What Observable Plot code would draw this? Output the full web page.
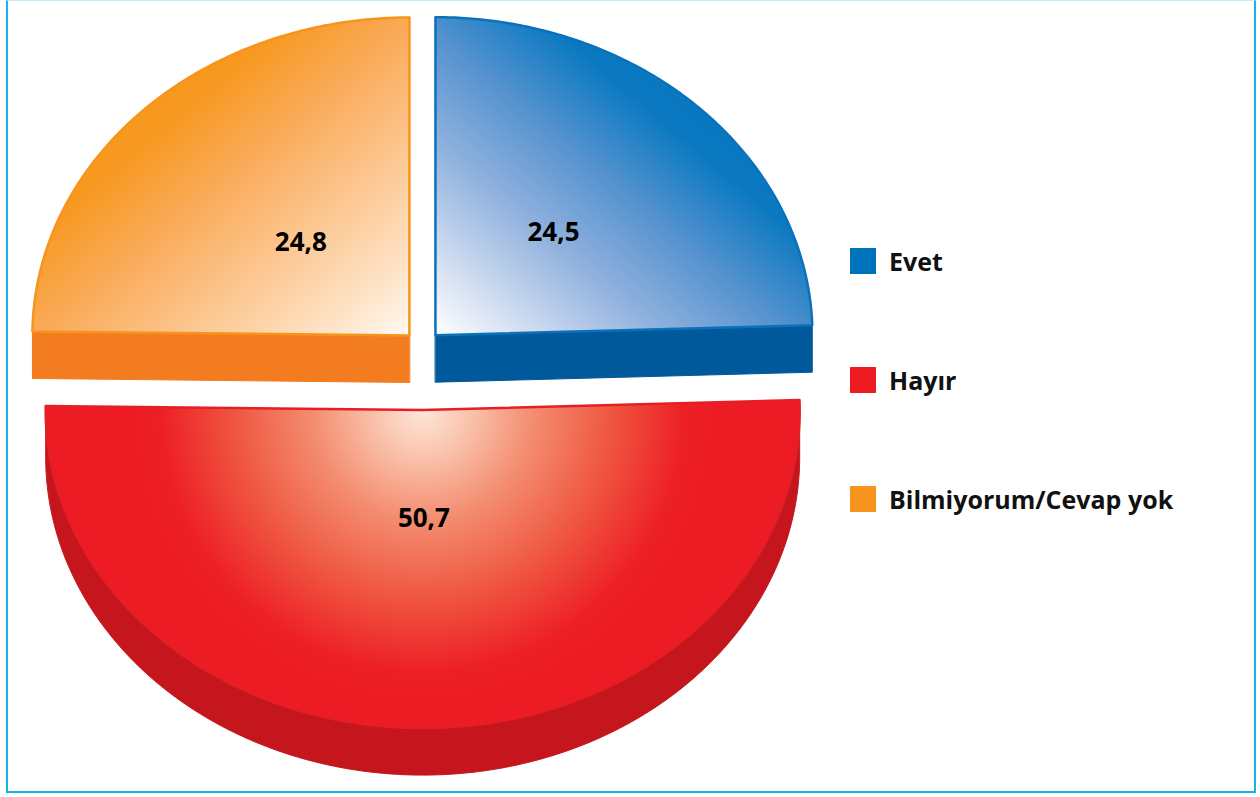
<!DOCTYPE html>
<html>
<head>
<meta charset="utf-8">
<script src="https://cdn.jsdelivr.net/npm/d3@7"></script>
<script src="https://cdn.jsdelivr.net/npm/@observablehq/plot@0.6"></script>
<style>
  html, body { margin: 0; padding: 0; background: #fff; }
  #wrap { position: relative; width: 1260px; height: 797px; overflow: hidden; }
  #frame { position: absolute; left: 6px; top: 0; width: 1250px; height: 793px; box-sizing: border-box;
           border: 2.5px solid #15b4ea; border-top: 1.5px solid #c4eefc; pointer-events: none; }
  #legend { position: absolute; left: 850px; top: 0; }
  .item { position: absolute; left: 0; height: 26px; display: flex; align-items: center; white-space: nowrap; }
  .sw { width: 26px; height: 26px; margin-right: 13px; flex: none; }
  .lab { font-family: "Open Sans", sans-serif; font-weight: 700; font-size: 25px; color: #111; line-height: 26px; }
</style>
</head>
<body>
<div id="wrap"><div id="chart"></div><div id="legend"></div><div id="frame"></div></div>
<script>
// ---- data ----
const categories = ["Evet", "Hayır", "Bilmiyorum/Cevap yok"];
const values = [24.5, 50.7, 24.8];
const valueLabels = ["24,5", "50,7", "24,8"];

// ---- styles ----
const legendColors = {"Evet": "#0072bc", "Hayır": "#ed1c24", "Bilmiyorum/Cevap yok": "#f7941d"};
const sideColors = {"Evet": "#00599a", "Hayır": "#c4161c", "Bilmiyorum/Cevap yok": "#f37c20"};
const edgeColors = {"Evet": "#0a72bb", "Hayır": "#e61e26", "Bilmiyorum/Cevap yok": "#f7941d"};
const gradIds = {"Evet": "gBlue", "Hayır": "gRed", "Bilmiyorum/Cevap yok": "gOrange"};
const labelFrac = {"Evet": 0.45, "Hayır": 0.34, "Bilmiyorum/Cevap yok": 0.41};
const legendTops = {"Evet": 248, "Hayır": 367, "Bilmiyorum/Cevap yok": 486};

// ---- geometry (3D tilted, exploded pie) ----
const W = 1260, H = 797;
const CX = 422, CY = 366, RX = 377, RY = 318, DEPTH = 47, EXX = 18.6, EXY = 43.6;

const arcs = d3.pie().sort(null).startAngle(0).endAngle(2 * Math.PI)(values);
const slices = arcs.map((p, i) => {
  const mid = (p.startAngle + p.endAngle) / 2;
  return {
    cat: categories[i], value: values[i], label: valueLabels[i],
    a0: p.startAngle, a1: p.endAngle, mid,
    ox: CX + EXX * Math.sin(mid), oy: CY - EXY * Math.cos(mid)
  };
});
const pt = (s, a, dz = 0) => ({x: s.ox + RX * Math.sin(a), y: s.oy - RY * Math.cos(a) + dz});
function arcPts(s, a0, a1, dz) {
  const n = Math.max(2, Math.ceil(Math.abs(a1 - a0) / (Math.PI / 360)));
  return d3.range(n + 1).map(k => pt(s, a0 + (a1 - a0) * k / n, dz));
}
function sidePolys(s) {
  const polys = [];
  const apex = {x: s.ox, y: s.oy}, apexD = {x: s.ox, y: s.oy + DEPTH};
  const lo = Math.max(s.a0, Math.PI / 2), hi = Math.min(s.a1, 3 * Math.PI / 2);
  if (lo < hi) polys.push(arcPts(s, lo, hi, 0).concat(arcPts(s, hi, lo, DEPTH)));
  if (s.a1 > 0 && s.a1 < Math.PI) polys.push([apex, pt(s, s.a1), pt(s, s.a1, DEPTH), apexD]);
  if (s.a0 > Math.PI && s.a0 < 2 * Math.PI) polys.push([apex, pt(s, s.a0), pt(s, s.a0, DEPTH), apexD]);
  return polys;
}
const topPoly = s => [{x: s.ox, y: s.oy}].concat(arcPts(s, s.a0, s.a1, 0));

// back slices first (those whose bisector points away), then front
const order = slices.slice().sort((a, b) => (-Math.cos(a.mid)) - (-Math.cos(b.mid)));

const marks = [];
for (const s of order) {
  for (const poly of sidePolys(s)) {
    marks.push(Plot.line(poly, {x: "x", y: "y", curve: "linear-closed",
      fill: sideColors[s.cat], stroke: sideColors[s.cat], strokeWidth: 1}));
  }
  marks.push(Plot.line(topPoly(s), {x: "x", y: "y", curve: "linear-closed",
    fill: `url(#${gradIds[s.cat]})`, stroke: edgeColors[s.cat], strokeWidth: 2.5, strokeLinejoin: "round"}));
}
marks.push(Plot.text(slices, {
  x: d => d.ox + RX * labelFrac[d.cat] * Math.sin(d.mid),
  y: d => d.oy - RY * labelFrac[d.cat] * Math.cos(d.mid),
  text: "label", fontSize: 26, fontWeight: 700, fill: "#000"
}));

const plot = Plot.plot({
  width: W, height: H,
  marginTop: 0, marginRight: 0, marginBottom: 0, marginLeft: 0,
  x: {domain: [0, W], range: [0, W], axis: null},
  y: {domain: [0, H], range: [0, H], axis: null},
  style: {fontFamily: "Open Sans, sans-serif", background: "transparent", overflow: "visible"},
  marks
});

// gradients
const defs = d3.select(plot).insert("defs", ":first-child");
function addStops(g, stops) { stops.forEach(([o, c]) => g.append("stop").attr("offset", o).attr("stop-color", c)); }
addStops(defs.append("linearGradient").attr("id", "gBlue").attr("x1", 0).attr("y1", 1).attr("x2", 1).attr("y2", 0),
  [[0, "#ffffff"], [0.1, "#dce5f4"], [0.3, "#91b2de"], [0.47, "#5793cf"], [0.64, "#0a79c1"], [1, "#0072bc"]]);
addStops(defs.append("linearGradient").attr("id", "gOrange").attr("x1", 1).attr("y1", 1).attr("x2", 0).attr("y2", 0),
  [[0, "#fffaf4"], [0.12, "#fee3c6"], [0.29, "#fcc893"], [0.48, "#faac5c"], [0.66, "#f7981f"], [1, "#f7941d"]]);
const red = slices.find(s => s.cat === "Hayır");
const sx = plot.scale("x").apply, sy = plot.scale("y").apply;
addStops(defs.append("radialGradient").attr("id", "gRed").attr("gradientUnits", "userSpaceOnUse")
  .attr("cx", sx(red.ox)).attr("cy", sy(red.oy)).attr("r", 290).attr("fx", sx(red.ox)).attr("fy", sy(red.oy)),
  [[0, "#fde6da"], [0.12, "#fbcdb8"], [0.38, "#f38d70"], [0.65, "#ef5640"], [0.9, "#ed2027"], [1, "#ed1c24"]]);

document.getElementById("chart").appendChild(plot);

// legend
const legend = d3.select("#legend");
categories.forEach(c => {
  const item = legend.append("div").attr("class", "item").style("top", legendTops[c] + "px");
  item.append("div").attr("class", "sw").style("background", legendColors[c]);
  item.append("div").attr("class", "lab").text(c);
});
</script>
</body>
</html>
